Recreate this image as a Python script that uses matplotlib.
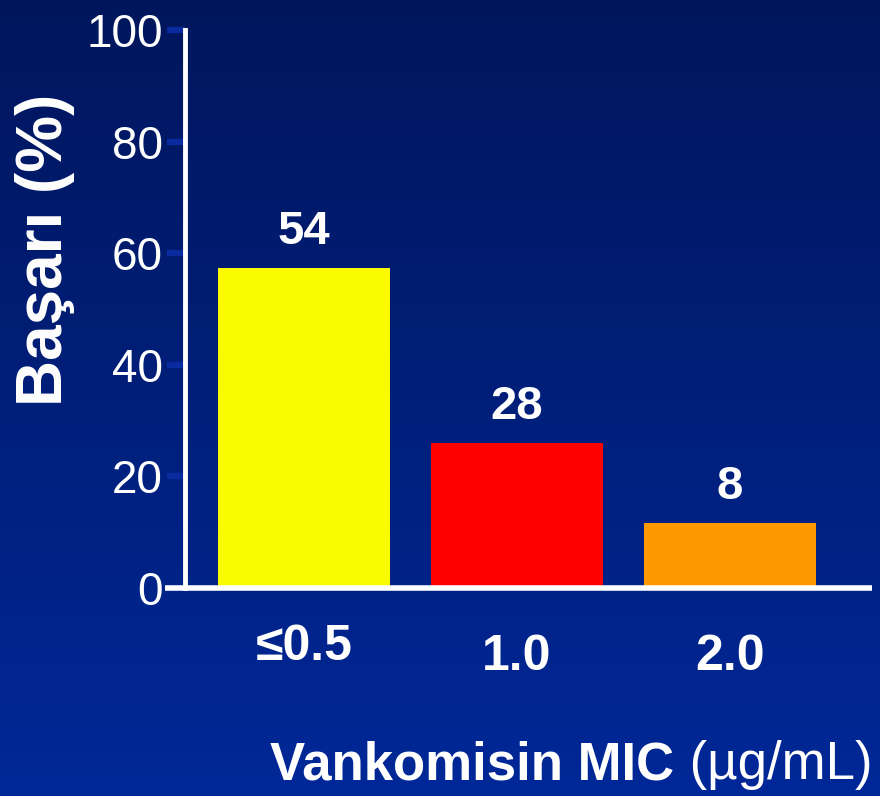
import numpy as np
import matplotlib
matplotlib.use("Agg")
import matplotlib.pyplot as plt

plt.rcParams['font.family'] = ['Liberation Sans', 'DejaVu Sans']

# data
categories = ['≤0.5', '1.0', '2.0']
bar_heights = [57.3, 26.0, 11.6]
value_labels = ['54', '28', '8']
bar_colors = ['#FAFB00', '#FF0000', '#FF9900']
y_ticks = [0, 20, 40, 60, 80, 100]

fig = plt.figure(figsize=(8.8, 7.96), dpi=100)

# gradient background
bg = fig.add_axes([0, 0, 1, 1], zorder=-10)
grad = np.linspace(0, 1, 256).reshape(-1, 1)
top = np.array([0, 22, 92]) / 255
bottom = np.array([0, 40, 152]) / 255
img = top + (bottom - top) * grad[..., None]
bg.imshow(img, aspect='auto', extent=[0, 1, 0, 1])
bg.axis('off')

W, H = 880, 796
x0, x1 = 185, 872
y0, y1 = 588, 30
ax = fig.add_axes([x0 / W, 1 - y0 / H, (x1 - x0) / W, (y0 - y1) / H])
ax.patch.set_alpha(0)

x = np.arange(len(categories))
ax.bar(x, bar_heights, width=0.808, color=bar_colors, zorder=2)
ax.set_xlim(-0.559, 2.667)
ax.set_ylim(0, 100)

for s in ['top', 'right']:
    ax.spines[s].set_visible(False)
ax.spines['left'].set_color('white')
ax.spines['left'].set_linewidth(3.5)
ax.spines['bottom'].set_visible(False)
ax.plot([-20 / (x1 - x0), 1], [0, 0], transform=ax.transAxes, color='white',
        lw=4, clip_on=False, zorder=3, solid_capstyle='butt')

ax.set_yticks(y_ticks)
ax.tick_params(axis='y', direction='out', length=13, width=4.5, color='#0a2aa0',
               labelcolor='white', labelsize=33, pad=3)
ax.set_xticks([])

# category labels under the axis
label_y = [-0.105, -0.123, -0.123]
for xi, cat, ly in zip(x, categories, label_y):
    ax.text(xi, ly, cat, transform=ax.get_xaxis_transform(), ha='center', va='center',
            color='white', fontsize=36, fontweight='bold')

# value labels above bars
for xi, h, lab in zip(x, bar_heights, value_labels):
    ax.annotate(lab, (xi, h), xytext=(0, 10), textcoords='offset points',
                ha='center', va='bottom', color='white', fontsize=34, fontweight='bold')

fig.text(45 / W, 1 - 250 / H, 'Başarı (%)', rotation=90, ha='center', va='center',
         color='white', fontsize=46, fontweight='bold')

# x axis title: bold part + normal units
t1 = fig.text(x1 / W, 1 - 765 / H, ' (µg/mL)', ha='right', va='center',
              color='white', fontsize=38)
fig.canvas.draw()
bb = t1.get_window_extent()
fig.text(bb.x0 / W, 1 - 765 / H, 'Vankomisin MIC', ha='right', va='center',
         color='white', fontsize=38, fontweight='bold')

fig.savefig('out.png', dpi=100)
